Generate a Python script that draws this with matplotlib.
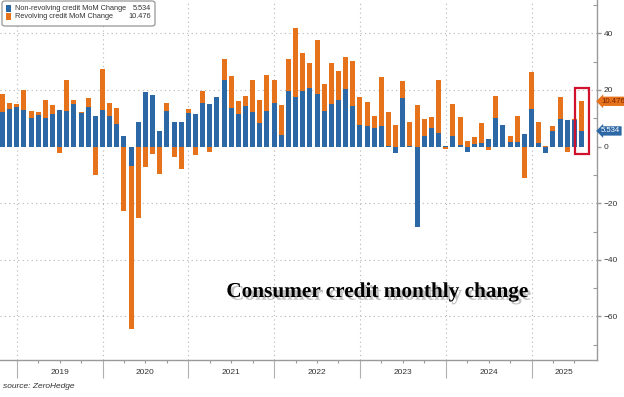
import matplotlib.pyplot as plt
import matplotlib.patches as patches
import matplotlib.patheffects as pe
import matplotlib.transforms as mtransforms
import numpy as np
import pandas as pd

# monthly change, $bn, Oct 2018 .. Jul 2025
months = pd.period_range('2018-10', '2025-07', freq='M')
nonrev = [12.1, 13.2, 13.9,
          12.9, 10.2, 11.1, 10.1, 11.6, 12.9, 12.7, 15.1, 11.9, 13.9, 10.9, 12.8,
          10.8, 8.0, 3.6, -7.0, 8.6, 19.4, 18.2, 5.4, 12.5, 8.6, 8.8, 11.9,
          11.4, 15.3, 14.9, 17.4, 23.5, 13.5, 11.4, 14.2, 12.2, 8.4, 12.6, 15.5,
          4.1, 19.6, 17.6, 19.5, 20.8, 18.6, 12.6, 15.1, 16.6, 20.2, 14.4, 7.5,
          7.2, 6.5, 7.3, 0.2, -2.2, 17.3, 0.2, -28.5, 3.8, 6.6, 4.7, 0.3,
          3.8, 0.4, -1.9, 0.8, 1.2, 2.6, 10.2, 7.5, 1.6, 1.5, 4.5, 13.3,
          1.4, -2.1, 5.6, 9.9, 9.4, 9.4, 5.534]
rev = [6.5, 2.3, 1.3,
       7.2, 2.4, 1.3, 6.5, 3.2, -2.1, 10.9, 1.5, 0.2, 3.3, -10.0, 14.7,
       4.6, 5.6, -22.6, -57.5, -25.3, -7.3, -2.6, -9.8, 2.9, -3.5, -7.8, 1.4,
       -2.9, 4.2, -1.8, -0.3, 7.5, 11.4, 4.8, 3.6, 11.3, 8.0, 12.6, 7.9,
       10.5, 11.5, 24.3, 13.6, 8.6, 19.2, 9.5, 14.3, 10.2, 11.4, 16.0, 10.1,
       8.6, 4.3, 17.3, 12.2, 7.5, 6.0, 8.6, 14.6, 6.0, 3.9, 18.7, -0.8,
       11.1, 10.2, 2.0, 2.7, 7.0, -1.1, 7.8, 0.2, 2.3, 9.2, -11.2, 12.9,
       7.2, 0.3, 1.7, 7.8, -1.8, 0.3, 10.476]
years = [2019, 2020, 2021, 2022, 2023, 2024, 2025]
yticks = [-60, -40, -20, 0, 20, 40]

blue = '#2c67a6'
orange = '#e6721c'
grey = '#9a9a9a'
small = 'Liberation Sans'

nonrev = np.array(nonrev)
rev = np.array(rev)
# bars sit at month end, x=0 is 1 Jan 2019
x = (months.year - 2019) * 12 + months.month
bottom = np.where(rev >= 0, np.maximum(nonrev, 0), np.minimum(nonrev, 0))

fig = plt.figure(figsize=(6.24, 3.97), dpi=100)
ax = fig.add_axes([0, 1 - 360 / 397, 597 / 624, 360 / 397])

ax.bar(x, nonrev, width=0.7, color=blue, zorder=3)
ax.bar(x, rev, width=0.7, bottom=bottom, color=orange, zorder=3)

ax.set_xlim(-2.34, 81.16)
ax.set_ylim(-75.4, 51.8)

for y in yticks:
    if y != 0:
        ax.axhline(y, color='#b5b5b5', lw=0.8, ls=(0, (1, 3)), zorder=1)
for i in range(len(years)):
    ax.axvline(i * 12, color='#b5b5b5', lw=0.8, ls=(0, (1, 3)), zorder=1)

for s in ['top', 'left']:
    ax.spines[s].set_visible(False)
for s in ['right', 'bottom']:
    ax.spines[s].set_color(grey)
    ax.spines[s].set_linewidth(1)

ax.set_xticks([i * 12 for i in range(len(years))])
ax.set_xticks(np.arange(3, 81, 3), minor=True)
ax.tick_params(axis='x', which='major', length=13, width=0.8, color='#b0b0b0',
               labelbottom=False)
ax.tick_params(axis='x', which='minor', length=2, width=0.8, color=grey)

ax.yaxis.tick_right()
ax.set_yticks(yticks)
ax.set_yticks(np.arange(-70, 51, 20), minor=True)
ax.tick_params(axis='y', which='major', direction='out', length=3, width=1,
               color=grey, pad=2, labelsize=6, labelcolor='#333333')
ax.tick_params(axis='y', which='minor', direction='in', length=3, width=0.8,
               color=grey)
for lab in ax.get_yticklabels():
    lab.set_family(small)

xt = ax.get_xaxis_transform()
for i, yr in enumerate(years):
    right = min((i + 1) * 12, 81.16)
    ax.text((i * 12 + right) / 2, -0.036, str(yr), transform=xt, ha='center',
            va='center', fontsize=6, color='#333333', family=small)

# end-of-series tags
tt = mtransforms.blended_transform_factory(ax.transAxes, ax.transData)
ax.text(1.007, nonrev[-1] + rev[-1], f'{rev[-1]:.3f}', transform=tt, ha='left',
        va='center', fontsize=5.6, color='#7a2400', clip_on=False, family=small,
        bbox=dict(boxstyle='larrow,pad=0.15', fc=orange, ec='none'))
ax.text(1.007, nonrev[-1], f'{nonrev[-1]:.3f}', transform=tt, ha='left',
        va='center', fontsize=5.6, color='white', clip_on=False, family=small,
        bbox=dict(boxstyle='larrow,pad=0.15', fc=blue, ec='none'))

# highlight latest month
ax.add_patch(patches.Rectangle((x[-1] - 0.92, -2.6), 1.9, 23.3, fill=False,
                               ec='#d0122f', lw=1.6, zorder=4))

# legend
fig.patches.append(patches.FancyBboxPatch(
    (2 / 624, 1 - 26 / 397), 153 / 624, 25 / 397,
    boxstyle='round,pad=0,rounding_size=0.005', transform=fig.transFigure,
    fc='white', ec='#8a8a8a', lw=0.8, zorder=5))
for j, (lab, val, c) in enumerate([('Non-revolving credit MoM Change', nonrev[-1], blue),
                                   ('Revolving credit MoM Change', rev[-1], orange)]):
    yc = 1 - (8.5 + 8 * j) / 397
    fig.patches.append(patches.Rectangle((6 / 624, yc - 3 / 397), 5 / 624, 6 / 397,
                                         transform=fig.transFigure, fc=c, ec='none',
                                         zorder=6))
    fig.text(15 / 624, yc, lab, ha='left', va='center', fontsize=5.3,
             color='#333333', zorder=7, family=small)
    fig.text(151 / 624, yc, f'{val:.3f}', ha='right', va='center', fontsize=5.3,
             color='#333333', zorder=7, family=small)

fig.text(377 / 624, 1 - 292 / 397, 'Consumer credit monthly change', ha='center',
         va='center', fontsize=15.3, fontweight='bold', family='Liberation Serif',
         color='black',
         path_effects=[pe.withSimplePatchShadow(offset=(2, -2), shadow_rgbFace='#888888',
                                                alpha=0.5)])
fig.text(3 / 624, 1 - 387 / 397, 'source: ZeroHedge', ha='left', va='center',
         fontsize=6, style='italic', color='#333333', family=small)

fig.savefig('out.png', dpi=100)
